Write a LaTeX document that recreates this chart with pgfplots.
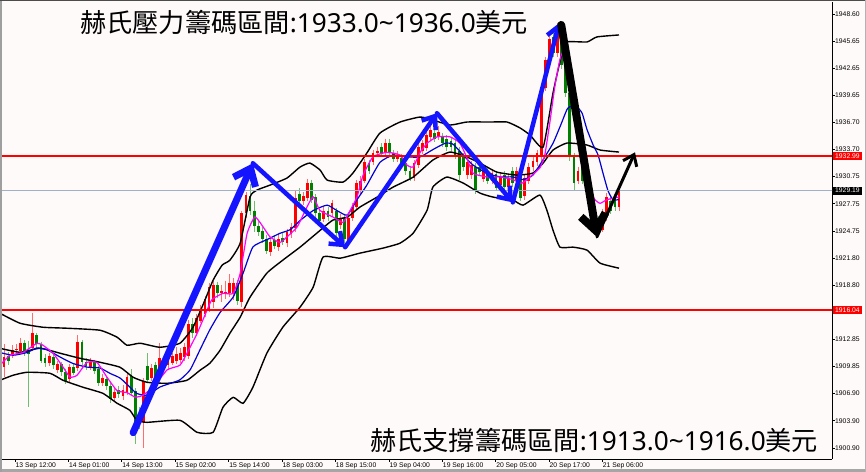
\documentclass[border=0pt]{standalone}
\usepackage{pgfplots}
\pgfplotsset{compat=1.18}
\usepackage{pgfplotstable}
\usepackage{fontspec}
\setmainfont{Liberation Sans}
\newfontfamily\cjk{Noto Sans CJK TC}
\newfontfamily\noto{Noto Sans}
\usetikzlibrary{arrows.meta}
\definecolor{bg}{RGB}{255,250,250}
\definecolor{cred}{RGB}{255,0,0}
\definecolor{cgreen}{RGB}{0,128,0}
\definecolor{wred}{RGB}{255,110,110}
\definecolor{wgreen}{RGB}{110,190,110}
\definecolor{bidline}{RGB}{160,176,200}
\definecolor{mag}{RGB}{255,0,255}
\definecolor{mablue}{RGB}{0,0,210}
\definecolor{arrblue}{RGB}{20,20,255}

\pgfplotstableread{
i o c h l
0 1909.8 1910.9 1912.3 1908.7
2 1911.2 1911.7 1912.2 1910.8
3 1911.8 1911.8 1912.3 1911.3
4 1911.6 1912.5 1913.0 1911.3
7 1911.9 1913.5 1915.7 1911.6
11 1910.3 1911.0 1911.4 1909.9
13 1909.5 1910.1 1910.5 1909.2
16 1908.5 1909.8 1910.1 1908.2
18 1909.7 1912.6 1913.3 1909.4
21 1909.8 1910.4 1910.8 1909.5
24 1908.1 1908.6 1909.0 1907.7
27 1906.4 1907.1 1907.6 1906.0
29 1906.6 1907.3 1907.8 1906.2
30 1907.0 1908.7 1909.0 1906.7
34 1903.8 1908.3 1908.6 1900.9
36 1908.6 1909.7 1910.1 1908.3
38 1908.6 1910.8 1912.5 1908.3
40 1910.0 1910.6 1911.0 1909.6
41 1910.3 1911.0 1911.4 1910.0
42 1910.5 1911.2 1912.0 1910.1
43 1910.6 1911.4 1911.9 1910.3
44 1910.9 1912.0 1912.5 1910.5
45 1911.0 1914.5 1915.0 1910.7
47 1913.6 1915.2 1915.6 1913.2
48 1914.9 1916.1 1916.6 1914.6
49 1915.6 1917.3 1917.6 1915.3
50 1916.2 1918.6 1919.0 1915.8
51 1917.0 1918.8 1919.3 1916.3
53 1917.9 1918.2 1918.8 1917.0
54 1918.1 1918.1 1919.3 1917.3
55 1917.9 1919.0 1920.0 1917.5
56 1917.9 1919.0 1919.6 1917.2
58 1917.0 1926.7 1927.0 1916.4
59 1926.7 1928.7 1929.0 1926.2
65 1922.4 1923.6 1924.0 1922.0
67 1923.0 1923.9 1924.4 1922.6
69 1923.4 1924.6 1925.0 1923.0
70 1924.4 1925.2 1925.6 1924.0
71 1925.1 1928.4 1929.2 1924.7
73 1928.0 1928.6 1929.0 1927.6
74 1928.4 1930.0 1930.5 1928.1
78 1926.1 1927.0 1927.4 1925.7
80 1926.7 1927.8 1928.2 1926.3
82 1925.4 1926.2 1926.6 1925.0
84 1923.7 1926.2 1926.6 1923.2
85 1926.2 1927.4 1927.8 1925.9
86 1927.4 1930.0 1930.4 1927.1
87 1929.2 1930.3 1930.8 1928.8
88 1930.3 1932.3 1932.7 1930.0
90 1932.3 1933.3 1933.7 1932.0
91 1933.3 1933.6 1934.0 1932.9
93 1933.4 1934.4 1934.9 1933.0
96 1932.7 1933.1 1933.5 1932.3
100 1930.6 1932.2 1932.6 1930.2
101 1932.0 1934.0 1934.4 1931.7
102 1933.6 1934.4 1934.8 1933.2
103 1933.9 1935.3 1935.7 1933.6
104 1935.1 1935.8 1936.3 1934.8
106 1935.1 1935.6 1936.3 1934.8
113 1930.9 1932.3 1932.7 1930.5
114 1930.9 1932.0 1932.4 1930.5
117 1930.5 1931.3 1931.8 1930.1
119 1930.3 1931.1 1931.5 1929.9
121 1929.8 1930.7 1931.1 1929.4
123 1929.6 1930.6 1931.0 1929.2
125 1930.3 1931.4 1931.8 1929.9
127 1928.6 1930.6 1931.0 1928.2
128 1930.3 1931.8 1932.2 1929.9
129 1931.8 1932.5 1932.9 1931.4
130 1932.3 1933.3 1933.7 1931.9
131 1932.9 1940.5 1940.9 1932.5
132 1940.5 1943.5 1943.9 1940.1
133 1943.5 1945.9 1946.3 1943.1
135 1944.3 1946.9 1947.6 1943.9
140 1930.3 1931.4 1931.8 1929.9
146 1924.9 1926.8 1927.2 1924.6
147 1926.3 1928.5 1928.9 1925.9
150 1927.4 1929.19 1929.6 1927.0
}\up

\pgfplotstableread{
i o c h l
1 1911.0 1910.5 1911.5 1910.0
5 1912.5 1911.5 1912.8 1911.0
6 1911.6 1911.2 1912.7 1905.4
8 1913.3 1912.3 1913.6 1911.9
9 1912.3 1910.5 1912.6 1910.2
10 1910.8 1910.3 1911.2 1909.8
12 1910.9 1910.0 1911.2 1909.6
14 1910.1 1909.3 1910.4 1908.8
15 1909.3 1908.3 1909.6 1907.9
17 1909.8 1909.2 1910.2 1908.9
19 1912.6 1910.4 1912.8 1910.0
20 1910.4 1909.9 1910.8 1909.5
22 1910.4 1909.4 1910.6 1909.0
23 1909.6 1908.0 1909.9 1907.7
25 1908.5 1907.7 1908.8 1907.3
26 1907.7 1906.3 1908.0 1905.9
28 1907.3 1906.8 1907.7 1906.4
31 1908.8 1907.0 1909.6 1906.6
32 1907.2 1903.8 1907.5 1901.4
33 1904.6 1903.6 1905.4 1903.0
35 1909.9 1908.4 1911.3 1908.0
37 1910.0 1908.2 1910.4 1907.9
39 1910.8 1910.0 1911.2 1909.6
46 1914.5 1913.5 1915.2 1913.0
52 1918.8 1917.9 1919.2 1917.4
57 1919.0 1917.1 1919.4 1916.6
60 1928.6 1927.0 1929.9 1926.5
61 1927.0 1925.3 1928.1 1924.6
62 1925.3 1924.6 1925.9 1924.2
63 1924.8 1923.9 1925.2 1923.4
64 1923.9 1922.6 1924.3 1922.2
66 1923.8 1923.1 1924.2 1922.8
68 1924.0 1923.6 1924.5 1923.2
72 1928.8 1928.1 1929.5 1927.6
75 1930.0 1928.2 1930.4 1927.8
76 1928.5 1926.7 1928.8 1926.3
77 1926.7 1925.9 1927.1 1925.5
79 1927.0 1926.3 1927.4 1925.9
81 1927.0 1924.5 1927.3 1924.1
83 1926.2 1923.9 1926.5 1923.4
89 1932.2 1931.4 1932.6 1931.0
92 1934.0 1933.3 1934.4 1932.9
94 1934.4 1933.3 1934.9 1932.9
95 1933.3 1932.7 1933.7 1932.3
97 1932.8 1932.2 1933.2 1931.8
98 1932.2 1931.4 1932.6 1930.9
99 1931.4 1930.6 1931.8 1930.2
105 1935.5 1934.9 1936.0 1934.5
107 1935.1 1934.4 1935.5 1934.0
108 1934.9 1934.0 1935.3 1933.6
109 1934.7 1934.0 1935.1 1933.6
110 1934.4 1933.1 1934.8 1932.7
111 1933.6 1930.9 1934.0 1930.4
112 1932.9 1931.8 1933.3 1931.4
115 1931.8 1929.2 1932.2 1928.8
116 1931.8 1931.2 1932.2 1930.8
118 1931.4 1930.3 1931.8 1929.9
120 1931.0 1929.5 1931.4 1929.1
122 1930.9 1929.6 1931.3 1929.2
124 1931.4 1930.0 1931.8 1929.6
126 1931.1 1928.4 1931.5 1928.0
134 1946.1 1944.3 1946.5 1943.9
136 1946.5 1943.0 1946.9 1942.6
137 1943.0 1939.9 1944.5 1939.5
138 1939.9 1932.9 1940.3 1932.5
139 1932.9 1930.0 1933.3 1929.2
141 1931.8 1930.3 1932.2 1929.9
142 1930.6 1929.6 1931.2 1929.2
143 1929.8 1927.4 1930.2 1927.0
144 1927.4 1925.7 1927.8 1925.3
145 1926.0 1924.9 1926.4 1924.4
148 1928.1 1927.0 1928.5 1926.6
149 1928.5 1927.4 1928.9 1927.0
}\dn

\begin{document}
\begin{tikzpicture}
\useasboundingbox (0,0) rectangle (866bp,472bp);
\fill[bg] (0,0) rectangle (866bp,472bp);
\begin{axis}[
  at={(2bp,13bp)}, anchor=south west,
  width=830bp, height=457bp, scale only axis,
  xmin=-0.488, xmax=201.95, ymin=1899.70, ymax=1949.92,
  axis x line*=bottom, axis y line*=right,
  axis line style={black, line width=0.8bp},
  tick align=outside, major tick length=3bp,
  tick style={black, line width=0.6bp},
  xtick={2.68,15.7,28.7,41.7,54.8,67.8,80.8,93.9,106.9,119.9,132.9,145.9},
  xticklabels={13 Sep 12:00,14 Sep 01:00,14 Sep 13:00,15 Sep 02:00,15 Sep 14:00,18 Sep 03:00,18 Sep 15:00,19 Sep 04:00,19 Sep 16:00,20 Sep 05:00,20 Sep 17:00,21 Sep 06:00},
  xticklabel style={anchor=north west, inner sep=0pt, xshift=0.5bp, yshift=-0.5bp, font=\fontsize{6.8}{8}\selectfont},
  ytick={1900.90,1903.90,1906.90,1909.85,1912.85,1918.80,1921.80,1924.75,1927.75,1930.75,1933.70,1936.70,1939.65,1942.65,1945.65,1948.60},
  yticklabels={1900.90,1903.90,1906.90,1909.85,1912.85,1918.80,1921.80,1924.75,1927.75,1930.75,1933.70,1936.70,1939.65,1942.65,1945.65,1948.60},
  yticklabel style={anchor=west, inner sep=0pt, xshift=0bp, font=\fontsize{6.8}{8}\selectfont},
]
% wicks
\addplot[draw=none, forget plot, error bars/.cd, y dir=minus, y explicit, error mark=none,
  error bar style={draw=wred, line width=0.8bp, solid}]
  table[x=i, y=h, y error minus expr={\thisrow{h}-\thisrow{l}}] {\up};
\addplot[draw=none, forget plot, error bars/.cd, y dir=minus, y explicit, error mark=none,
  error bar style={draw=wgreen, line width=0.8bp, solid}]
  table[x=i, y=h, y error minus expr={\thisrow{h}-\thisrow{l}}] {\dn};
% bodies
\addplot[draw=none, forget plot, error bars/.cd, y dir=minus, y explicit, error mark=none,
  error bar style={draw=cred, line width=2.8bp, solid}]
  table[x=i, y expr={max(\thisrow{o},\thisrow{c})}, y error minus expr={max(abs(\thisrow{c}-\thisrow{o}),0.12)}] {\up};
\addplot[draw=none, forget plot, error bars/.cd, y dir=minus, y explicit, error mark=none,
  error bar style={draw=cgreen, line width=2.8bp, solid}]
  table[x=i, y expr={max(\thisrow{o},\thisrow{c})}, y error minus expr={max(abs(\thisrow{c}-\thisrow{o}),0.12)}] {\dn};

% Bollinger upper
\addplot[black, line width=1.4bp, smooth, tension=0.3] coordinates {
(-1.0,1915.72)(3.9,1914.62)(9.5,1914.18)(15.4,1914.07)(23.4,1913.85)(27.6,1913.08)(30.0,1912.20)(33.2,1912.42)(38.0,1911.98)(42.9,1912.42)(46.1,1914.18)(49.0,1917.15)(51.0,1919.35)(53.2,1921.00)(55.1,1921.55)(57.6,1923.42)(60.0,1928.48)(61.7,1929.25)(64.9,1929.80)(69.0,1930.57)(72.2,1931.78)(74.6,1932.22)(77.1,1931.45)(78.8,1930.35)(82.7,1930.13)(85.1,1931.12)(88.5,1933.32)(91.7,1935.52)(96.6,1936.73)(101.5,1937.28)(104.6,1936.95)(108.8,1936.40)(112.9,1936.73)(118.5,1936.73)(122.7,1936.73)(125.9,1936.07)(128.3,1935.30)(131.5,1933.98)(133.9,1939.92)(136.1,1944.32)(137.3,1945.53)(142.2,1945.53)(144.6,1946.08)(150.0,1946.30)};
% Bollinger middle
\addplot[black, line width=1.4bp, smooth, tension=0.3] coordinates {
(-1.0,1911.87)(3.9,1911.43)(8.8,1911.87)(13.7,1911.32)(18.5,1910.77)(23.4,1910.33)(28.3,1909.78)(31.5,1908.68)(34.9,1908.13)(39.8,1908.02)(44.6,1908.35)(47.8,1909.45)(50.2,1910.22)(52.7,1911.65)(55.1,1913.52)(57.6,1915.28)(60.0,1917.48)(64.1,1920.12)(68.0,1921.55)(72.2,1922.98)(76.3,1924.52)(80.2,1925.95)(83.7,1926.28)(86.8,1927.38)(91.0,1928.48)(94.9,1929.58)(99.8,1930.68)(104.6,1932.55)(108.8,1933.43)(112.9,1932.88)(116.1,1932.22)(120.2,1931.23)(125.1,1930.90)(129.0,1931.12)(131.5,1932.22)(133.9,1933.65)(137.3,1934.42)(142.2,1934.20)(145.4,1933.65)(150.0,1933.43)};
% Bollinger lower
\addplot[black, line width=1.4bp, smooth, tension=0.3] coordinates {
(-1.0,1908.35)(2.2,1908.90)(5.6,1909.23)(11.2,1909.12)(14.4,1908.35)(19.3,1907.58)(24.1,1906.92)(27.6,1905.82)(30.7,1905.05)(32.4,1903.95)(34.9,1903.73)(42.9,1903.95)(47.1,1902.63)(51.0,1902.63)(53.4,1905.38)(55.9,1906.48)(58.3,1905.82)(60.7,1907.58)(64.1,1911.32)(68.0,1914.18)(72.2,1916.38)(75.4,1918.58)(77.8,1921.88)(82.0,1921.77)(86.8,1922.32)(92.4,1922.87)(96.6,1923.42)(99.8,1924.52)(103.2,1927.05)(104.6,1929.58)(108.0,1930.68)(112.0,1930.02)(116.1,1928.92)(119.3,1928.48)(124.1,1928.15)(126.6,1927.60)(130.7,1928.70)(132.4,1927.05)(133.9,1924.85)(135.6,1922.98)(138.8,1922.98)(142.2,1922.65)(145.4,1921.22)(150.0,1920.67)};
% blue MA
\addplot[mablue, line width=1.2bp, smooth, tension=0.3] coordinates {
(-1.0,1911.4)(2.2,1911.1)(5.6,1911.4)(8.0,1911.9)(10.5,1911.7)(13.7,1910.9)(16.8,1910.2)(20.2,1909.8)(23.4,1909.7)(25.9,1909.1)(28.3,1908.6)(30.7,1907.6)(32.4,1906.9)(34.9,1906.7)(38.0,1907.6)(40.5,1908.0)(42.9,1908.4)(45.4,1909.5)(47.8,1911.7)(50.2,1913.9)(52.7,1915.8)(55.9,1917.5)(58.3,1920.1)(60.7,1923.0)(64.1,1923.8)(67.3,1924.5)(69.8,1924.9)(72.2,1925.9)(75.4,1927.0)(78.8,1927.6)(81.2,1927.0)(83.7,1926.5)(86.1,1928.2)(88.5,1929.8)(91.7,1932.3)(94.9,1933.1)(98.3,1932.9)(101.5,1932.9)(104.6,1933.7)(107.6,1934.4)(109.5,1934.3)(112.0,1933.1)(114.4,1932.0)(117.8,1931.1)(121.0,1930.7)(124.1,1930.7)(126.6,1930.4)(129.0,1930.9)(131.5,1932.6)(133.9,1934.4)(135.6,1936.2)(137.3,1938.1)(138.0,1938.4)(139.7,1938.4)(141.0,1937.7)(142.2,1935.9)(143.7,1934.2)(144.9,1933.1)(146.1,1931.1)(147.3,1929.2)(148.5,1928.2)(150.0,1928.2)};
% magenta MA
\addplot[mag, line width=1.2bp, smooth, tension=0.3] coordinates {
(-1.0,1910.0)(1.5,1911.1)(4.6,1911.4)(8.0,1912.4)(9.5,1912.2)(12.0,1911.3)(14.4,1909.8)(16.1,1908.7)(17.8,1908.9)(20.2,1910.3)(22.7,1910.3)(25.1,1908.7)(27.6,1907.2)(30.0,1907.0)(32.0,1906.5)(33.9,1906.7)(36.8,1907.8)(39.8,1909.5)(42.9,1910.0)(44.6,1911.3)(47.1,1913.5)(49.0,1915.5)(50.7,1917.2)(53.4,1917.9)(55.9,1917.9)(57.6,1920.1)(59.3,1924.5)(61.2,1926.3)(63.2,1925.2)(64.9,1924.1)(67.3,1923.5)(69.0,1924.1)(71.5,1925.2)(73.9,1927.4)(75.4,1928.5)(77.1,1927.0)(80.2,1926.3)(82.7,1925.7)(84.4,1927.0)(86.1,1928.5)(87.6,1930.9)(90.0,1932.9)(93.4,1933.4)(96.6,1933.1)(98.3,1932.0)(99.8,1931.8)(101.5,1933.4)(103.2,1934.4)(105.6,1935.1)(108.8,1935.1)(111.2,1934.4)(112.9,1932.8)(114.4,1931.1)(117.8,1930.7)(121.0,1930.7)(124.1,1930.4)(126.3,1930.0)(128.3,1930.7)(130.7,1931.7)(131.9,1933.1)(133.2,1936.9)(134.4,1940.8)(135.6,1943.6)(136.6,1944.7)(138.0,1941.9)(139.3,1938.1)(140.5,1934.8)(141.7,1931.5)(142.9,1929.3)(144.1,1928.2)(145.4,1927.8)(147.1,1928.2)(150.0,1928.5)};

% horizontal lines
\addplot[bidline, line width=0.8bp] coordinates {(-1,1929.19) (203,1929.19)};
\addplot[cred, line width=2bp] coordinates {(-1,1932.99) (203,1932.99)};
\addplot[cred, line width=2bp] coordinates {(-1,1916.04) (203,1916.04)};

% arrows
\draw[arrblue, line width=7bp, line cap=round, -{Straight Barb[length=15bp,width=24bp]}] (axis cs:31.5,1902.6) -- (axis cs:60.7,1932.2);
\draw[arrblue, line width=4.5bp, line cap=round, -{Straight Barb[length=11bp,width=17bp]}] (axis cs:60.7,1932.2) -- (axis cs:83.2,1922.97);
\draw[arrblue, line width=4.5bp, line cap=round, -{Straight Barb[length=11bp,width=17bp]}] (axis cs:83.2,1922.97) -- (axis cs:105.6,1937.7);
\draw[arrblue, line width=4.5bp, line cap=round, -{Straight Barb[length=11bp,width=17bp]}] (axis cs:105.6,1937.7) -- (axis cs:124.1,1927.9);
\draw[arrblue, line width=4.5bp, line cap=round, -{Straight Barb[length=11bp,width=17bp]}] (axis cs:124.1,1927.9) -- (axis cs:135.4,1947.6);
\draw[black, line width=8bp, line cap=round, -{Straight Barb[length=16bp,width=25bp]}] (axis cs:135.9,1947.4) -- (axis cs:144.6,1924.1);
\draw[black, line width=3bp, line cap=round, -{Straight Barb[length=10bp,width=15bp]}] (axis cs:144.6,1924.1) -- (axis cs:153.9,1933.4);

\coordinate (r1) at (axis cs:201.95,1932.99);
\coordinate (r2) at (axis cs:201.95,1929.19);
\coordinate (r3) at (axis cs:201.95,1916.04);
\end{axis}
\foreach \c/\v/\col in {r1/1932.99/cred, r2/1929.19/black, r3/1916.04/cred}{
  \node[fill=\col, text=white, anchor=west, inner xsep=2.5bp, inner ysep=0pt, minimum height=8bp,
        font=\fontsize{6.8}{7}\selectfont] at ([xshift=0.5bp]\c) {\v};
}
% frame
\fill[gray!70] (0,0) rectangle (866bp,3bp);
\fill[gray!75] (0,0) rectangle (1.5bp,472bp);
\fill[black!70] (0,470.8bp) rectangle (866bp,472bp);
\fill[gray!60] (865bp,0) rectangle (866bp,472bp);
% texts
\node[anchor=base west, inner sep=0pt, font=\fontsize{26.3}{30}\selectfont] at (80bp,439bp)
  {{\cjk 赫氏壓力籌碼區間}\noto :1933.0\textasciitilde1936.0{\cjk 美元}};
\node[anchor=base west, inner sep=0pt, font=\fontsize{26.3}{30}\selectfont] at (370bp,22bp)
  {{\cjk 赫氏支撐籌碼區間}\noto :1913.0\textasciitilde1916.0{\cjk 美元}};
\end{tikzpicture}
\end{document}
